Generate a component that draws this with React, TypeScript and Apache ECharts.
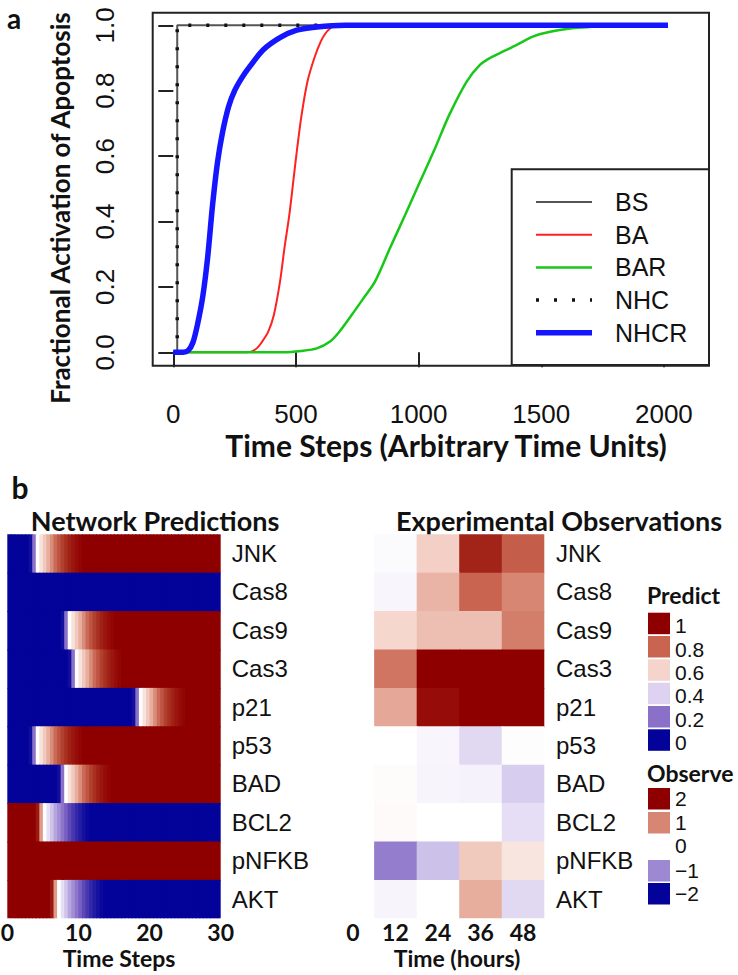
import React, { useEffect, useRef } from "react";
import * as echarts from "echarts";

// ---------- Panel a: curves (time step, fraction) ----------
const bsData = [[0, 0], [16, 0], [16, 1], [2100, 1]];
const baData = [[0, 0], [300, 0], [320, 0.003], [340, 0.012], [360, 0.03], [387, 0.063], [410, 0.114], [435, 0.216], [453, 0.318], [473, 0.42], [489, 0.522], [505, 0.624], [523, 0.726], [547, 0.828], [575, 0.9], [601, 0.95], [620, 0.975], [639, 0.99], [660, 1], [2100, 1]];
const barData = [[0, 0], [450, 0], [520, 0.004], [585, 0.012], [639, 0.033], [677, 0.063], [727, 0.114], [775, 0.165], [822, 0.216], [883, 0.318], [945, 0.42], [1006, 0.522], [1067, 0.624], [1125, 0.726], [1196, 0.828], [1250, 0.879], [1291, 0.9], [1345, 0.92], [1400, 0.94], [1468, 0.966], [1536, 0.98], [1617, 0.99], [1698, 0.995], [1760, 1], [2100, 1]];
const nhcData = [[0, 0], [16, 0], [16, 1], [2100, 1]];
const nhcrData = [[0, 0], [40, 0], [60, 0.005], [80, 0.03], [100, 0.09], [120, 0.17], [140, 0.29], [160, 0.45], [180, 0.58], [200, 0.67], [225, 0.75], [250, 0.8], [280, 0.84], [313, 0.875], [367, 0.925], [435, 0.962], [503, 0.985], [585, 0.995], [700, 1], [2100, 1]];
const seriesNames = ["BS", "BA", "BAR", "NHC", "NHCR"];

// ---------- Panel b: rows ----------
const rowNames = ["JNK", "Cas8", "Cas9", "Cas3", "p21", "p53", "BAD", "BCL2", "pNFKB", "AKT"];

// Network predictions, 60 half-step cells over 0..30 time steps
const predJNK = [0, 0, 0, 0, 0, 0, 0.02, 0.2, 0.5, 0.57, 0.63, 0.69, 0.74, 0.79, 0.83, 0.87, 0.9, 0.93, 0.955, 0.975,
  0.99, 1, 1, 1, 1, 1, 1, 1, 1, 1, 1, 1, 1, 1, 1, 1, 1, 1, 1, 1,
  1, 1, 1, 1, 1, 1, 1, 1, 1, 1, 1, 1, 1, 1, 1, 1, 1, 1, 1, 1];
const predCas8 = [0, 0, 0, 0, 0, 0, 0, 0, 0, 0, 0, 0, 0, 0, 0, 0, 0, 0, 0, 0,
  0, 0, 0, 0, 0, 0, 0, 0, 0, 0, 0, 0, 0, 0, 0, 0, 0, 0, 0, 0,
  0, 0, 0, 0, 0, 0, 0, 0, 0, 0, 0, 0, 0, 0, 0, 0, 0, 0, 0, 0];
const predCas9 = [0, 0, 0, 0, 0, 0, 0, 0, 0, 0, 0, 0, 0, 0, 0, 0.02, 0.2, 0.5, 0.57, 0.63,
  0.69, 0.74, 0.79, 0.83, 0.87, 0.9, 0.93, 0.955, 0.975, 0.99, 1, 1, 1, 1, 1, 1, 1, 1, 1, 1,
  1, 1, 1, 1, 1, 1, 1, 1, 1, 1, 1, 1, 1, 1, 1, 1, 1, 1, 1, 1];
const predCas3 = [0, 0, 0, 0, 0, 0, 0, 0, 0, 0, 0, 0, 0, 0, 0, 0, 0, 0.02, 0.2, 0.5,
  0.57, 0.63, 0.69, 0.74, 0.79, 0.83, 0.87, 0.9, 0.93, 0.955, 0.975, 0.99, 1, 1, 1, 1, 1, 1, 1, 1,
  1, 1, 1, 1, 1, 1, 1, 1, 1, 1, 1, 1, 1, 1, 1, 1, 1, 1, 1, 1];
const predP21 = [0, 0, 0, 0, 0, 0, 0, 0, 0, 0, 0, 0, 0, 0, 0, 0, 0, 0, 0, 0,
  0, 0, 0, 0, 0, 0, 0, 0, 0, 0, 0, 0, 0, 0, 0, 0.02, 0.2, 0.5, 0.57, 0.63,
  0.69, 0.74, 0.79, 0.83, 0.87, 0.9, 0.93, 0.955, 0.975, 0.99, 1, 1, 1, 1, 1, 1, 1, 1, 1, 1];
const predP53 = [0, 0, 0, 0, 0, 0, 0.02, 0.2, 0.5, 0.57, 0.63, 0.69, 0.74, 0.79, 0.83, 0.87, 0.9, 0.93, 0.955, 0.975,
  0.99, 1, 1, 1, 1, 1, 1, 1, 1, 1, 1, 1, 1, 1, 1, 1, 1, 1, 1, 1,
  1, 1, 1, 1, 1, 1, 1, 1, 1, 1, 1, 1, 1, 1, 1, 1, 1, 1, 1, 1];
const predBAD = [0, 0, 0, 0, 0, 0, 0, 0, 0, 0, 0, 0, 0, 0, 0.02, 0.2, 0.5, 0.57, 0.63, 0.69,
  0.74, 0.79, 0.83, 0.87, 0.9, 0.93, 0.955, 0.975, 0.99, 1, 1, 1, 1, 1, 1, 1, 1, 1, 1, 1,
  1, 1, 1, 1, 1, 1, 1, 1, 1, 1, 1, 1, 1, 1, 1, 1, 1, 1, 1, 1];
const predBCL2 = [1, 1, 1, 1, 1, 1, 1, 1, 0.95, 0.72, 0.5, 0.43, 0.37, 0.31, 0.26, 0.21, 0.17, 0.13, 0.1, 0.07,
  0.045, 0.025, 0.01, 0, 0, 0, 0, 0, 0, 0, 0, 0, 0, 0, 0, 0, 0, 0, 0, 0,
  0, 0, 0, 0, 0, 0, 0, 0, 0, 0, 0, 0, 0, 0, 0, 0, 0, 0, 0, 0];
const predPNFKB = [1, 1, 1, 1, 1, 1, 1, 1, 1, 1, 1, 1, 1, 1, 1, 1, 1, 1, 1, 1,
  1, 1, 1, 1, 1, 1, 1, 1, 1, 1, 1, 1, 1, 1, 1, 1, 1, 1, 1, 1,
  1, 1, 1, 1, 1, 1, 1, 1, 1, 1, 1, 1, 1, 1, 1, 1, 1, 1, 1, 1];
const predAKT = [1, 1, 1, 1, 1, 1, 1, 1, 1, 1, 1, 1, 0.95, 0.72, 0.5, 0.43, 0.37, 0.31, 0.26, 0.21,
  0.17, 0.13, 0.1, 0.07, 0.045, 0.025, 0.01, 0, 0, 0, 0, 0, 0, 0, 0, 0, 0, 0, 0, 0,
  0, 0, 0, 0, 0, 0, 0, 0, 0, 0, 0, 0, 0, 0, 0, 0, 0, 0, 0, 0];
const predRows = [predJNK, predCas8, predCas9, predCas3, predP21, predP53, predBAD, predBCL2, predPNFKB, predAKT];

// Experimental observations (hours 0,12,24,36,48), scale -2..2
const obsHours = ["0", "12", "24", "36", "48"];
const obsJNK = [0, -0.05, 0.45, 1.7, 1.25];
const obsCas8 = [0, -0.08, 0.7, 1.2, 1.0];
const obsCas9 = [0, 0.38, 0.6, 0.6, 1.05];
const obsCas3 = [0, 1.1, 2, 2, 2];
const obsP21 = [0, 0.8, 1.9, 2, 2];
const obsP53 = [0, 0, -0.08, -0.35, -0.02];
const obsBAD = [0, 0.03, -0.1, -0.12, -0.45];
const obsBCL2 = [0, 0.05, 0, 0, -0.3];
const obsPNFKB = [0, -1.1, -0.55, 0.5, 0.25];
const obsAKT = [0, -0.1, 0, 0.75, -0.35];
const obsRows = [obsJNK, obsCas8, obsCas9, obsCas3, obsP21, obsP53, obsBAD, obsBCL2, obsPNFKB, obsAKT];

const predictLegend = ["1", "0.8", "0.6", "0.4", "0.2", "0"];
const predictLegendVals = [1, 0.8, 0.6, 0.4, 0.2, 0];
const observeLegend = ["2", "1", "0", "\u22121", "\u22122"];
const observeLegendVals = [2, 1, 0, -1, -2];

const RAMP = ["#03039A", "#4838B0", "#8A70C8", "#B0A2DC", "#DDD3F0", "#FFFFFF", "#F5D5CB", "#E5A898", "#C86450", "#A83020", "#8E0000"];
const SANS = "'Liberation Sans', Arial, sans-serif";
const BOLD = "Lato, 'Open Sans', sans-serif";
const INK = "#111";

function rampColor(p: number) {
  const t = Math.max(0, Math.min(1, p)) * (RAMP.length - 1);
  const i = Math.min(RAMP.length - 2, Math.floor(t));
  const f = t - i;
  const a = parseInt(RAMP[i].slice(1), 16), b = parseInt(RAMP[i + 1].slice(1), 16);
  const ch = (s: number) => Math.round(((a >> s) & 255) * (1 - f) + ((b >> s) & 255) * f);
  return `rgb(${ch(16)},${ch(8)},${ch(0)})`;
}

function cellRenderer(nCols: number, nRows: number) {
  return (params: any, api: any) => {
    const c = api.value(0), r = api.value(1);
    const p = api.coord([c, r]);
    const s = api.size([1, 1]);
    const padX = c < nCols - 1 ? 0.9 : 0;
    const padY = r < nRows - 1 ? 0.9 : 0;
    return {
      type: "rect",
      shape: { x: p[0] - s[0] / 2, y: p[1] - s[1] / 2, width: s[0] + padX, height: s[1] + padY },
      style: { fill: api.visual("color") },
    };
  };
}

function buildOption() {
  const predCells: number[][] = [];
  predRows.forEach((row, r) => row.forEach((v, c) => predCells.push([c, r, v])));
  const obsCells: number[][] = [];
  obsRows.forEach((row, r) => row.forEach((v, c) => obsCells.push([c, r, v])));
  const nPredCols = predRows[0].length;

  const lineCommon = { type: "line", xAxisIndex: 0, yAxisIndex: 0, showSymbol: false, symbol: "none", clip: false, silent: true };

  const graphic: any[] = [];
  graphic.push({ type: "rect", shape: { x: 152.7, y: 12.7, width: 556.3, height: 353 }, style: { fill: "none", stroke: "#222", lineWidth: 2 }, z: 50 });
  graphic.push({ type: "rect", shape: { x: 511.7, y: 169.3, width: 197.3, height: 195.7 }, style: { fill: "#fff", stroke: "#222", lineWidth: 2 }, z: 60 });
  const legStyles = [
    { stroke: "#555", lineWidth: 2 },
    { stroke: "#ff2020", lineWidth: 2 },
    { stroke: "#18c818", lineWidth: 2.5 },
    { stroke: "#111", lineWidth: 3.5, lineDash: [3, 15] },
    { stroke: "#1515ff", lineWidth: 5.5 },
  ];
  seriesNames.forEach((n, i) => {
    const y = 202 + i * 32.7;
    graphic.push({ type: "line", shape: { x1: 536, y1: y, x2: 592, y2: y }, style: legStyles[i], z: 61 });
    graphic.push({ type: "text", x: 615, y: y, style: { text: n, fontFamily: SANS, fontSize: 25, fill: INK, align: "left", verticalAlign: "middle" }, z: 61 });
  });
  graphic.push({ type: "text", x: 14, y: 18, style: { text: "a", fontFamily: BOLD, fontWeight: "bold", fontSize: 28, fill: INK, align: "center", verticalAlign: "middle" } });
  graphic.push({ type: "text", x: 20, y: 487, style: { text: "b", fontFamily: BOLD, fontWeight: "bold", fontSize: 30, fill: INK, align: "center", verticalAlign: "middle" } });
  graphic.push({ type: "text", x: 60, y: 208, rotation: Math.PI / 2, style: { text: "Fractional Activation of Apoptosis", fontFamily: BOLD, fontWeight: "bold", fontSize: 26, fill: INK, align: "center", verticalAlign: "middle" } });
  graphic.push({ type: "text", x: 446, y: 445, style: { text: "Time Steps (Arbitrary Time Units)", fontFamily: BOLD, fontWeight: "bold", fontSize: 30, fill: INK, align: "center", verticalAlign: "middle" } });
  graphic.push({ type: "text", x: 155, y: 520, style: { text: "Network Predictions", fontFamily: BOLD, fontWeight: "bold", fontSize: 27, fill: INK, align: "center", verticalAlign: "middle" } });
  graphic.push({ type: "text", x: 559, y: 520, style: { text: "Experimental Observations", fontFamily: BOLD, fontWeight: "bold", fontSize: 27, fill: INK, align: "center", verticalAlign: "middle" } });
  graphic.push({ type: "text", x: 119, y: 958, style: { text: "Time Steps", fontFamily: BOLD, fontWeight: "bold", fontSize: 23, fill: INK, align: "center", verticalAlign: "middle" } });
  graphic.push({ type: "text", x: 457, y: 958, style: { text: "Time (hours)", fontFamily: BOLD, fontWeight: "bold", fontSize: 23, fill: INK, align: "center", verticalAlign: "middle" } });
  graphic.push({ type: "text", x: 647, y: 595, style: { text: "Predict", fontFamily: BOLD, fontWeight: "bold", fontSize: 23, fill: INK, align: "left", verticalAlign: "middle" } });
  const predTops = [612.7, 636, 659.3, 682.7, 706, 729.3];
  predictLegend.forEach((lab, i) => {
    graphic.push({ type: "rect", shape: { x: 648, y: predTops[i], width: 22, height: 21.5 }, style: { fill: rampColor(predictLegendVals[i]) } });
    graphic.push({ type: "text", x: 675, y: predTops[i] + 13, style: { text: lab, fontFamily: SANS, fontSize: 21, fill: INK, align: "left", verticalAlign: "middle" } });
  });
  graphic.push({ type: "text", x: 647, y: 773, style: { text: "Observe", fontFamily: BOLD, fontWeight: "bold", fontSize: 23, fill: INK, align: "left", verticalAlign: "middle" } });
  const obsTops = [788, 812, 836, 860, 883];
  observeLegend.forEach((lab, i) => {
    if (observeLegendVals[i] !== 0) {
      graphic.push({ type: "rect", shape: { x: 648, y: obsTops[i], width: 22, height: 21.5 }, style: { fill: rampColor(0.5 + observeLegendVals[i] / 4) } });
    }
    graphic.push({ type: "text", x: 675, y: obsTops[i] + 10 + (observeLegendVals[i] === 0 ? -1 : 0), style: { text: lab, fontFamily: SANS, fontSize: 21, fill: INK, align: "left", verticalAlign: "middle" } });
  });

  const hidden = { axisLine: { show: false }, axisTick: { show: false }, splitLine: { show: false } };

  return {
    animation: false,
    backgroundColor: "#fff",
    grid: [
      { left: 173.3, top: 25.3, width: 490.6, height: 327, outerBoundsMode: "none" },
      { left: 7.3, top: 534.3, width: 213.4, height: 384, outerBoundsMode: "none" },
      { left: 331.6, top: 534.3, width: 212.7, height: 384, outerBoundsMode: "none" },
    ],
    xAxis: [
      {
        gridIndex: 0, type: "value", min: 0, max: 2000, interval: 500, offset: 13.4, position: "bottom",
        axisLine: { show: false }, splitLine: { show: false },
        axisTick: { show: true, length: 15, lineStyle: { color: "#222", width: 2 } },
        axisLabel: { fontFamily: SANS, fontSize: 26, color: INK, margin: 35, formatter: (v: number) => String(v) },
      },
      { gridIndex: 1, type: "category", position: "top", data: predRows[0].map((_, i) => String(i)), show: false },
      {
        gridIndex: 1, type: "value", position: "bottom", min: 0, max: 30, interval: 10, ...hidden,
        axisLabel: { fontFamily: BOLD, fontWeight: "bold", fontSize: 23, color: INK, margin: 2, showMinLabel: true, showMaxLabel: true, formatter: (v: number) => String(v) },
      },
      {
        gridIndex: 2, type: "category", position: "bottom", data: obsHours, ...hidden,
        axisLabel: { fontFamily: BOLD, fontWeight: "bold", fontSize: 23, color: INK, margin: 2, interval: 0 },
      },
    ],
    yAxis: [
      {
        gridIndex: 0, type: "value", min: 0, max: 1, interval: 0.2, offset: 20.6,
        axisLine: { show: false }, splitLine: { show: false },
        axisTick: { show: true, length: 15, lineStyle: { color: "#222", width: 2 } },
        axisLabel: { fontFamily: SANS, fontSize: 26, color: INK, margin: 35, rotate: 90, formatter: (v: number) => v.toFixed(1) },
      },
      {
        gridIndex: 1, type: "category", data: rowNames, inverse: true, position: "right", ...hidden,
        axisLabel: { fontFamily: SANS, fontSize: 24, color: INK, margin: 11, interval: 0 },
      },
      {
        gridIndex: 2, type: "category", data: rowNames, inverse: true, position: "right", ...hidden,
        axisLabel: { fontFamily: SANS, fontSize: 24, color: INK, margin: 11.7, interval: 0 },
      },
    ],
    visualMap: [
      { type: "continuous", show: false, min: 0, max: 1, dimension: 2, seriesIndex: 5, inRange: { color: RAMP } },
      { type: "continuous", show: false, min: -2, max: 2, dimension: 2, seriesIndex: 6, inRange: { color: RAMP } },
    ],
    series: [
      { ...lineCommon, name: "BS", data: bsData, lineStyle: { color: "#555", width: 2 }, z: 2 },
      { ...lineCommon, name: "BA", data: baData, smooth: 0.3, lineStyle: { color: "#ff2020", width: 2 }, z: 3 },
      { ...lineCommon, name: "BAR", data: barData, smooth: 0.3, lineStyle: { color: "#18c818", width: 2.5 }, z: 4 },
      { ...lineCommon, name: "NHC", data: nhcData, lineStyle: { color: "#111", width: 3.5, type: [3, 15] }, z: 5 },
      { ...lineCommon, name: "NHCR", data: nhcrData, smooth: 0.3, lineStyle: { color: "#1515ff", width: 5.5 }, z: 6 },
      { type: "custom", xAxisIndex: 1, yAxisIndex: 1, data: predCells, renderItem: cellRenderer(nPredCols, predRows.length), silent: true, encode: { x: 0, y: 1 } },
      { type: "custom", xAxisIndex: 3, yAxisIndex: 2, data: obsCells, renderItem: cellRenderer(obsHours.length, obsRows.length), silent: true, encode: { x: 0, y: 1 } },
    ],
    graphic,
  };
}

export default function App() {
  const ref = useRef<HTMLDivElement>(null);
  useEffect(() => {
    const chart = echarts.init(ref.current!, null, { renderer: "svg", width: 738, height: 975 });
    chart.setOption(buildOption() as any);
    return () => chart.dispose();
  }, []);
  return <div ref={ref} style={{ position: "absolute", left: 0, top: 0, width: 738, height: 975, background: "#fff" }} />;
}
